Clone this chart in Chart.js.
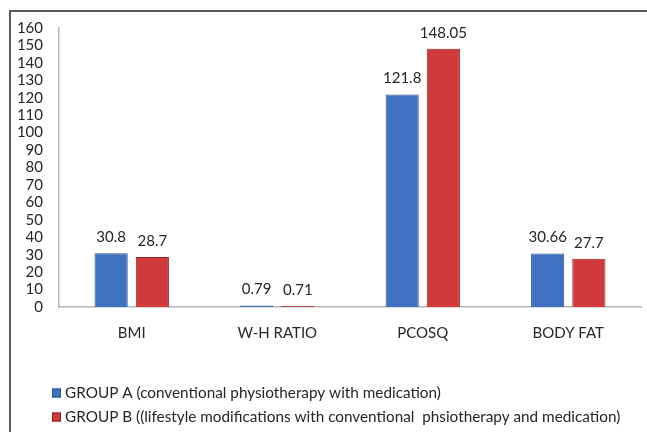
<!DOCTYPE html>
<html>
<head>
<meta charset="utf-8">
<title>group comparison chart</title>
<script src="https://cdn.jsdelivr.net/npm/chart.js"></script>
<style>
  html, body { margin: 0; padding: 0; background: #fff; }
  #wrap { width: 647px; height: 432px; }
</style>
</head>
<body>
<div id="wrap"><canvas id="chartCanvas" width="647" height="432"></canvas></div>
<script>
var categorias = ['BMI', 'W-H RATIO', 'PCOSQ', 'BODY FAT'];
var grupoA = [30.8, 0.79, 121.8, 30.66];
var grupoB = [28.7, 0.71, 148.05, 27.7];
var nombreA = 'GROUP A (conventional physiotherapy with medication)';
var nombreB = 'GROUP B ((lifestyle modifications with conventional  phsiotherapy and medication)';
var yMax = 160;
var yStep = 10;

var fuente = 'Lato, "Open Sans", sans-serif';
var tam = 15;

// marco gris (solo se ven los lados izquierdo y superior)
var marco = {
    id: 'marco',
    beforeDraw: function(chart) {
        var c = chart.ctx;
        c.save();
        c.fillStyle = '#fff';
        c.fillRect(0, 0, chart.width, chart.height);
        c.strokeStyle = '#5a5a5a';
        c.lineWidth = 2;
        c.strokeRect(10, 11, chart.width + 20, chart.height + 20);
        c.restore();
    }
};

// valores encima de cada barra
var etiquetas = {
    id: 'etiquetas',
    afterDatasetsDraw: function(chart) {
        var c = chart.ctx;
        c.save();
        c.font = tam + 'px ' + fuente;
        c.fillStyle = '#262626';
        c.textAlign = 'center';
        c.textBaseline = 'middle';
        chart.data.datasets.forEach(function(ds, i) {
            chart.getDatasetMeta(i).data.forEach(function(bar, j) {
                c.fillText(String(ds.data[j]), bar.x, bar.y - 16);
            });
        });
        c.restore();
    }
};

// leyenda en dos filas, alineada a la izquierda
var leyenda = {
    id: 'leyenda',
    afterDraw: function(chart) {
        var c = chart.ctx;
        c.save();
        c.font = '15.3px ' + fuente;
        c.textBaseline = 'middle';
        c.textAlign = 'left';
        chart.data.datasets.forEach(function(ds, i) {
            var y = 393 + i * 24;
            c.fillStyle = ds.backgroundColor;
            c.fillRect(52, y - 4.5, 9, 9);
            c.strokeStyle = ds.borderColor;
            c.lineWidth = 1;
            c.strokeRect(52.5, y - 4, 8, 8);
            c.fillStyle = '#262626';
            c.fillText(ds.label, 65, y);
        });
        c.restore();
    }
};

var ctx = document.getElementById('chartCanvas').getContext('2d');
var chart = new Chart(ctx, {
    type: 'bar',
    data: {
        labels: categorias,
        datasets: [{
            label: nombreA,
            data: grupoA,
            backgroundColor: '#3f73c2',
            borderColor: '#28508f',
            borderWidth: 1
        }, {
            label: nombreB,
            data: grupoB,
            backgroundColor: '#d03a3a',
            borderColor: '#8e2222',
            borderWidth: 1
        }]
    },
    options: {
        responsive: false,
        animation: false,
        barPercentage: 0.805,
        categoryPercentage: 0.566,
        layout: { padding: { left: 0, right: 6, top: 28, bottom: 0 } },
        plugins: {
            legend: { display: false },
            tooltip: { enabled: false }
        },
        scales: {
            x: {
                grid: { display: false, drawTicks: false },
                border: { display: true, color: '#b5b5b5', width: 1.5 },
                ticks: { color: '#262626', padding: 17, font: { family: fuente, size: tam } },
                afterFit: function(s) { s.height = 125; }
            },
            y: {
                min: 0,
                max: yMax,
                grid: { display: false, drawTicks: false },
                border: { display: true, color: '#b5b5b5', width: 1.5 },
                ticks: { stepSize: yStep, autoSkip: false, color: '#262626', padding: 16, font: { family: fuente, size: tam } },
                afterFit: function(s) { s.width = 59; }
            }
        }
    },
    plugins: [marco, etiquetas, leyenda]
});
</script>
</body>
</html>
